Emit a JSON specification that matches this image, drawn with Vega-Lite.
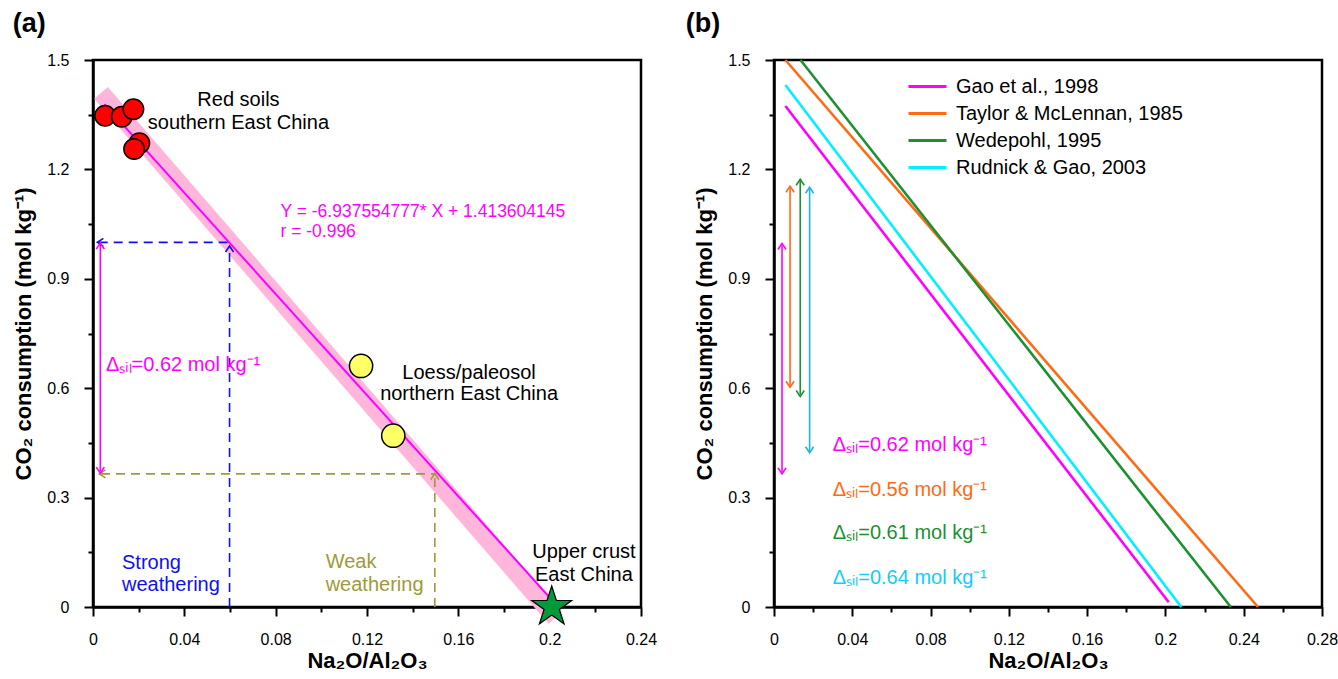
{
  "$schema": "https://vega.github.io/schema/vega-lite/v6.json",
  "background": "white",
  "padding": {"left": 11, "top": 8, "right": 5, "bottom": 5},
  "spacing": 26,
  "config": {
    "font": "Liberation Sans",
    "view": {"stroke": "black", "strokeWidth": 2.5},
    "axis": {
      "grid": false,
      "domainColor": "black",
      "domainWidth": 2.5,
      "tickColor": "black",
      "tickWidth": 2,
      "labelFont": "Liberation Sans",
      "labelFontSize": 16,
      "labelColor": "black",
      "labelFlush": false,
      "labelOverlap": false,
      "titleFont": "Liberation Sans",
      "titleFontSize": 22,
      "titleFontWeight": "bold",
      "titleColor": "black"
    },
    "title": {"font": "Liberation Sans", "fontSize": 27, "fontWeight": "bold", "color": "black", "anchor": "start", "frame": "bounds", "offset": 14}
  },
  "datasets": {
    "ptsA": [
      {"grp": "red", "x": 0.0053, "y": 1.347},
      {"grp": "red", "x": 0.0126, "y": 1.3445},
      {"grp": "red", "x": 0.0177, "y": 1.365},
      {"grp": "red", "x": 0.0203, "y": 1.2716},
      {"grp": "red", "x": 0.018, "y": 1.256},
      {"grp": "yellow", "x": 0.1174, "y": 0.661},
      {"grp": "yellow", "x": 0.1315, "y": 0.4697},
      {"grp": "crust", "x": 0.2009, "y": 0}
    ],
    "segA": [
      {"grp": "band", "x": 0.0035, "y": 1.41, "x2": 0.2025, "y2": -0.03},
      {"grp": "fit", "x": 0.005, "y": 1.3789, "x2": 0.1995, "y2": 0.0296},
      {"grp": "strong", "x": 0.0025, "y": 1.0, "x2": 0.0596, "y2": 1.0},
      {"grp": "strong", "x": 0.0598, "y": 0, "x2": 0.0598, "y2": 0.985},
      {"grp": "weak", "x": 0.0035, "y": 0.365, "x2": 0.1497, "y2": 0.365},
      {"grp": "weak", "x": 0.1497, "y": 0, "x2": 0.1497, "y2": 0.36},
      {"grp": "delta", "x": 0.0032, "y": 0.372, "x2": 0.0032, "y2": 0.993}
    ],
    "headsA": [
      {"grp": "strong", "dir": "left", "x": 0.0019, "y": 1.0},
      {"grp": "strong", "dir": "up", "x": 0.0598, "y": 0.99},
      {"grp": "weak", "dir": "left", "x": 0.0028, "y": 0.365},
      {"grp": "weak", "dir": "up", "x": 0.1497, "y": 0.366},
      {"grp": "delta", "dir": "up", "x": 0.0032, "y": 0.998},
      {"grp": "delta", "dir": "down", "x": 0.0032, "y": 0.367}
    ],
    "textA": [
      {"grp": "black", "label": "Red soils", "x": 0.0637, "y": 1.3903},
      {"grp": "black", "label": "southern East China", "x": 0.0637, "y": 1.3281},
      {"grp": "black", "label": "Loess/paleosol", "x": 0.1647, "y": 0.6425},
      {"grp": "black", "label": "northern East China", "x": 0.1647, "y": 0.5841},
      {"grp": "black", "label": "Upper crust", "x": 0.215, "y": 0.1516},
      {"grp": "black", "label": "East China", "x": 0.215, "y": 0.0878},
      {"grp": "fit", "label": "Y = -6.937554777* X + 1.413604145", "x": 0.0821, "y": 1.0832},
      {"grp": "fit", "label": "r = -0.996", "x": 0.0821, "y": 1.0292},
      {"grp": "delta", "label": "Δₛᵢₗ=0.62 mol kg⁻¹", "x": 0.0057, "y": 0.6636},
      {"grp": "strong", "label": "Strong", "x": 0.0127, "y": 0.1207},
      {"grp": "strong", "label": "weathering", "x": 0.0127, "y": 0.0603},
      {"grp": "weak", "label": "Weak", "x": 0.1019, "y": 0.1242},
      {"grp": "weak", "label": "weathering", "x": 0.1019, "y": 0.0603}
    ],
    "linesB": [
      {"src": "Gao et al., 1998", "x": 0.00583, "y": 1.3738, "x2": 0.2017, "y2": 0.0129},
      {"src": "Taylor & McLennan, 1985", "x": 0.00583, "y": 1.5, "x2": 0.2473, "y2": 0},
      {"src": "Wedepohl, 1995", "x": 0.01354, "y": 1.5, "x2": 0.2334, "y2": 0},
      {"src": "Rudnick & Gao, 2003", "x": 0.00583, "y": 1.4314, "x2": 0.2081, "y2": 0}
    ],
    "arrB": [
      {"src": "Gao et al., 1998", "x": 0.0041, "y": 0.37, "y2": 0.992},
      {"src": "Taylor & McLennan, 1985", "x": 0.0082, "y": 0.607, "y2": 1.149},
      {"src": "Wedepohl, 1995", "x": 0.0134, "y": 0.582, "y2": 1.168},
      {"src": "Rudnick & Gao, 2003", "x": 0.0182, "y": 0.428, "y2": 1.146}
    ],
    "headsB": [
      {"src": "Gao et al., 1998", "dir": "up", "x": 0.0041, "y": 0.997},
      {"src": "Gao et al., 1998", "dir": "down", "x": 0.0041, "y": 0.365},
      {"src": "Taylor & McLennan, 1985", "dir": "up", "x": 0.0082, "y": 1.154},
      {"src": "Taylor & McLennan, 1985", "dir": "down", "x": 0.0082, "y": 0.6025},
      {"src": "Wedepohl, 1995", "dir": "up", "x": 0.0134, "y": 1.173},
      {"src": "Wedepohl, 1995", "dir": "down", "x": 0.0134, "y": 0.577},
      {"src": "Rudnick & Gao, 2003", "dir": "up", "x": 0.0182, "y": 1.151},
      {"src": "Rudnick & Gao, 2003", "dir": "down", "x": 0.0182, "y": 0.423}
    ],
    "labB": [
      {"src": "Gao et al., 1998", "label": "Δₛᵢₗ=0.62 mol kg⁻¹", "x": 0.03, "y": 0.4443},
      {"src": "Taylor & McLennan, 1985", "label": "Δₛᵢₗ=0.56 mol kg⁻¹", "x": 0.03, "y": 0.3208},
      {"src": "Wedepohl, 1995", "label": "Δₛᵢₗ=0.61 mol kg⁻¹", "x": 0.03, "y": 0.2021},
      {"src": "Rudnick & Gao, 2003", "label": "Δₛᵢₗ=0.64 mol kg⁻¹", "x": 0.03, "y": 0.0787}
    ]
  },
  "hconcat": [
    {
      "width": 548,
      "height": 547,
      "title": {"text": "(a)"},
      "resolve": {"axis": {"x": "independent", "y": "independent"}},
      "encoding": {
        "x": {"field": "x", "type": "quantitative", "scale": {"domain": [0, 0.24], "nice": false, "zero": false}, "axis": null},
        "y": {"field": "y", "type": "quantitative", "scale": {"domain": [0, 1.5], "nice": false, "zero": false}, "axis": null}
      },
      "layer": [
        {
          "data": {"name": "segA"},
          "transform": [{"filter": "datum.grp == 'band'"}],
          "mark": {"type": "rule", "color": "#FFB6DA", "strokeWidth": 18, "strokeCap": "butt"},
          "encoding": {
            "x": {
              "field": "x", "type": "quantitative",
              "scale": {"domain": [0, 0.24], "nice": false, "zero": false},
              "axis": {"orient": "bottom", "title": "Na₂O/Al₂O₃", "values": [0, 0.04, 0.08, 0.12, 0.16, 0.2, 0.24], "format": "~g", "tickSize": 9, "labelPadding": 15, "titlePadding": 3}
            },
            "y": {
              "field": "y", "type": "quantitative",
              "scale": {"domain": [0, 1.5], "nice": false, "zero": false},
              "axis": {"orient": "left", "title": "CO₂ consumption (mol kg⁻¹)", "values": [0, 0.3, 0.6, 0.9, 1.2, 1.5], "format": "~g", "tickSize": 9, "labelPadding": 15, "titlePadding": 11}
            },
            "x2": {"field": "x2"}, "y2": {"field": "y2"}
          }
        },
        {
          "data": {"name": "segA"},
          "transform": [{"filter": "datum.grp == 'fit'"}],
          "mark": {"type": "rule", "color": "#FF00FF", "strokeWidth": 2},
          "encoding": {
            "x": {
              "field": "x", "type": "quantitative",
              "scale": {"domain": [0, 0.24], "nice": false, "zero": false},
              "axis": {"orient": "bottom", "title": null, "values": [0.02, 0.06, 0.1, 0.14, 0.18, 0.22], "labels": false, "domain": false, "tickSize": 5}
            },
            "y": {
              "field": "y", "type": "quantitative",
              "scale": {"domain": [0, 1.5], "nice": false, "zero": false},
              "axis": {"orient": "left", "title": null, "values": [0.15, 0.45, 0.75, 1.05, 1.35], "labels": false, "domain": false, "tickSize": 5}
            },
            "x2": {"field": "x2"}, "y2": {"field": "y2"}
          }
        },
        {
          "data": {"name": "segA"},
          "transform": [{"filter": "datum.grp == 'strong'"}],
          "mark": {"type": "rule", "color": "#1010F0", "strokeWidth": 1.6, "strokeDash": [9, 6]},
          "encoding": {"x2": {"field": "x2"}, "y2": {"field": "y2"}}
        },
        {
          "data": {"name": "segA"},
          "transform": [{"filter": "datum.grp == 'weak'"}],
          "mark": {"type": "rule", "color": "#A09A3A", "strokeWidth": 1.6, "strokeDash": [9, 6]},
          "encoding": {"x2": {"field": "x2"}, "y2": {"field": "y2"}}
        },
        {
          "data": {"name": "segA"},
          "transform": [{"filter": "datum.grp == 'delta'"}],
          "mark": {"type": "rule", "color": "#FF00FF", "strokeWidth": 1.6},
          "encoding": {"x2": {"field": "x2"}, "y2": {"field": "y2"}}
        },
        {
          "data": {"name": "headsA"},
          "transform": [{"filter": "datum.grp == 'strong' && datum.dir == 'left'"}],
          "mark": {"type": "point", "shape": "M-0.6,0.9L0,0L0.6,0.9", "filled": false, "stroke": "#1010F0", "strokeWidth": 1.6, "size": 180, "angle": 270, "opacity": 1},
          "encoding": {}
        },
        {
          "data": {"name": "headsA"},
          "transform": [{"filter": "datum.grp == 'strong' && datum.dir == 'up'"}],
          "mark": {"type": "point", "shape": "M-0.6,0.9L0,0L0.6,0.9", "filled": false, "stroke": "#1010F0", "strokeWidth": 1.6, "size": 180, "angle": 0, "opacity": 1},
          "encoding": {}
        },
        {
          "data": {"name": "headsA"},
          "transform": [{"filter": "datum.grp == 'weak' && datum.dir == 'left'"}],
          "mark": {"type": "point", "shape": "M-0.6,0.9L0,0L0.6,0.9", "filled": false, "stroke": "#A09A3A", "strokeWidth": 1.6, "size": 180, "angle": 270, "opacity": 1},
          "encoding": {}
        },
        {
          "data": {"name": "headsA"},
          "transform": [{"filter": "datum.grp == 'weak' && datum.dir == 'up'"}],
          "mark": {"type": "point", "shape": "M-0.6,0.9L0,0L0.6,0.9", "filled": false, "stroke": "#A09A3A", "strokeWidth": 1.6, "size": 180, "angle": 0, "opacity": 1},
          "encoding": {}
        },
        {
          "data": {"name": "headsA"},
          "transform": [{"filter": "datum.grp == 'delta' && datum.dir == 'up'"}],
          "mark": {"type": "point", "shape": "M-0.6,0.9L0,0L0.6,0.9", "filled": false, "stroke": "#FF00FF", "strokeWidth": 1.6, "size": 180, "angle": 0, "opacity": 1},
          "encoding": {}
        },
        {
          "data": {"name": "headsA"},
          "transform": [{"filter": "datum.grp == 'delta' && datum.dir == 'down'"}],
          "mark": {"type": "point", "shape": "M-0.6,0.9L0,0L0.6,0.9", "filled": false, "stroke": "#FF00FF", "strokeWidth": 1.6, "size": 180, "angle": 180, "opacity": 1},
          "encoding": {}
        },
        {
          "data": {"name": "ptsA"},
          "transform": [{"filter": "datum.grp == 'red'"}],
          "mark": {"type": "point", "shape": "circle", "filled": true, "fill": "#FF0000", "stroke": "black", "strokeWidth": 1.5, "size": 420, "opacity": 1},
          "encoding": {}
        },
        {
          "data": {"name": "ptsA"},
          "transform": [{"filter": "datum.grp == 'yellow'"}],
          "mark": {"type": "point", "shape": "circle", "filled": true, "fill": "#FFFF66", "stroke": "black", "strokeWidth": 1.5, "size": 540, "opacity": 1},
          "encoding": {}
        },
        {
          "data": {"name": "ptsA"},
          "transform": [{"filter": "datum.grp == 'crust'"}],
          "mark": {"type": "point", "shape": "M0,-1L0.2245,-0.309L0.951,-0.309L0.363,0.118L0.588,0.809L0,0.382L-0.588,0.809L-0.363,0.118L-0.951,-0.309L-0.2245,-0.309Z", "filled": true, "fill": "#009A3A", "stroke": "black", "strokeWidth": 1.2, "size": 1764, "opacity": 1},
          "encoding": {}
        },
        {
          "data": {"name": "textA"},
          "transform": [{"filter": "datum.grp == 'black'"}],
          "mark": {"type": "text", "fontSize": 20, "align": "center", "baseline": "middle", "color": "black"},
          "encoding": {"text": {"field": "label"}}
        },
        {
          "data": {"name": "textA"},
          "transform": [{"filter": "datum.grp == 'fit'"}],
          "mark": {"type": "text", "fontSize": 17.5, "align": "left", "baseline": "middle", "color": "#FF00FF"},
          "encoding": {"text": {"field": "label"}}
        },
        {
          "data": {"name": "textA"},
          "transform": [{"filter": "datum.grp == 'delta'"}],
          "mark": {"type": "text", "fontSize": 20, "align": "left", "baseline": "middle", "color": "#FF00FF"},
          "encoding": {"text": {"field": "label"}}
        },
        {
          "data": {"name": "textA"},
          "transform": [{"filter": "datum.grp == 'strong'"}],
          "mark": {"type": "text", "fontSize": 20, "align": "left", "baseline": "middle", "color": "#1010F0"},
          "encoding": {"text": {"field": "label"}}
        },
        {
          "data": {"name": "textA"},
          "transform": [{"filter": "datum.grp == 'weak'"}],
          "mark": {"type": "text", "fontSize": 20, "align": "left", "baseline": "middle", "color": "#A09A3A"},
          "encoding": {"text": {"field": "label"}}
        }
      ]
    },
    {
      "width": 548,
      "height": 547,
      "title": {"text": "(b)", "dx": -8},
      "resolve": {"axis": {"x": "independent", "y": "independent"}},
      "encoding": {
        "x": {"field": "x", "type": "quantitative", "scale": {"domain": [0, 0.28], "nice": false, "zero": false}, "axis": null},
        "y": {"field": "y", "type": "quantitative", "scale": {"domain": [0, 1.5], "nice": false, "zero": false}, "axis": null}
      },
      "layer": [
        {
          "data": {"name": "linesB"},
          "mark": {"type": "rule", "strokeWidth": 2.6},
          "encoding": {
            "x": {
              "field": "x", "type": "quantitative",
              "scale": {"domain": [0, 0.28], "nice": false, "zero": false},
              "axis": {"orient": "bottom", "title": "Na₂O/Al₂O₃", "values": [0, 0.04, 0.08, 0.12, 0.16, 0.2, 0.24, 0.28], "format": "~g", "tickSize": 9, "labelPadding": 15, "titlePadding": 3}
            },
            "y": {
              "field": "y", "type": "quantitative",
              "scale": {"domain": [0, 1.5], "nice": false, "zero": false},
              "axis": {"orient": "left", "title": "CO₂ consumption (mol kg⁻¹)", "values": [0, 0.3, 0.6, 0.9, 1.2, 1.5], "format": "~g", "tickSize": 9, "labelPadding": 15, "titlePadding": 11}
            },
            "x2": {"field": "x2"},
            "y2": {"field": "y2"},
            "color": {
              "field": "src", "type": "nominal",
              "scale": {
                "domain": ["Gao et al., 1998", "Taylor & McLennan, 1985", "Wedepohl, 1995", "Rudnick & Gao, 2003"],
                "range": ["#FF00FF", "#FF6A14", "#1E9032", "#00F0FF"]
              },
              "legend": {
                "orient": "none",
                "legendX": 814,
                "legendY": 15,
                "title": null,
                "padding": 0,
                "symbolType": "M-1,0L2.8,0",
                "symbolSize": 400,
                "symbolStrokeWidth": 3,
                "labelFont": "Liberation Sans",
                "labelFontSize": 20,
                "labelColor": "black",
                "labelOffset": 26,
                "rowPadding": 5,
                "labelLimit": 400
              }
            }
          }
        },
        {
          "data": {"name": "arrB"},
          "mark": {"type": "rule", "strokeWidth": 1.6},
          "encoding": {
            "x": {
              "field": "x", "type": "quantitative",
              "scale": {"domain": [0, 0.28], "nice": false, "zero": false},
              "axis": {"orient": "bottom", "title": null, "values": [0.02, 0.06, 0.1, 0.14, 0.18, 0.22, 0.26], "labels": false, "domain": false, "tickSize": 5}
            },
            "y": {
              "field": "y", "type": "quantitative",
              "scale": {"domain": [0, 1.5], "nice": false, "zero": false},
              "axis": {"orient": "left", "title": null, "values": [0.15, 0.45, 0.75, 1.05, 1.35], "labels": false, "domain": false, "tickSize": 5}
            },
            "y2": {"field": "y2"},
            "stroke": {
              "field": "src", "type": "nominal", "legend": null,
              "scale": {
                "domain": ["Gao et al., 1998", "Taylor & McLennan, 1985", "Wedepohl, 1995", "Rudnick & Gao, 2003"],
                "range": ["#FF00FF", "#FF6A14", "#1E9032", "#1EB4F0"]
              }
            }
          }
        },
        {
          "data": {"name": "headsB"},
          "transform": [{"filter": "datum.dir == 'up'"}],
          "mark": {"type": "point", "shape": "M-0.6,0.9L0,0L0.6,0.9", "filled": false, "strokeWidth": 1.6, "size": 180, "angle": 0, "opacity": 1},
          "encoding": {"stroke": {"field": "src", "type": "nominal", "legend": null}}
        },
        {
          "data": {"name": "headsB"},
          "transform": [{"filter": "datum.dir == 'down'"}],
          "mark": {"type": "point", "shape": "M-0.6,0.9L0,0L0.6,0.9", "filled": false, "strokeWidth": 1.6, "size": 180, "angle": 180, "opacity": 1},
          "encoding": {"stroke": {"field": "src", "type": "nominal", "legend": null}}
        },
        {
          "data": {"name": "labB"},
          "mark": {"type": "text", "fontSize": 20, "align": "left", "baseline": "middle"},
          "encoding": {
            "text": {"field": "label"},
            "fill": {
              "field": "src", "type": "nominal", "legend": null,
              "scale": {
                "domain": ["Gao et al., 1998", "Taylor & McLennan, 1985", "Wedepohl, 1995", "Rudnick & Gao, 2003"],
                "range": ["#FF00FF", "#FF6A14", "#1E9032", "#14CCF5"]
              }
            }
          }
        }
      ]
    }
  ]
}
